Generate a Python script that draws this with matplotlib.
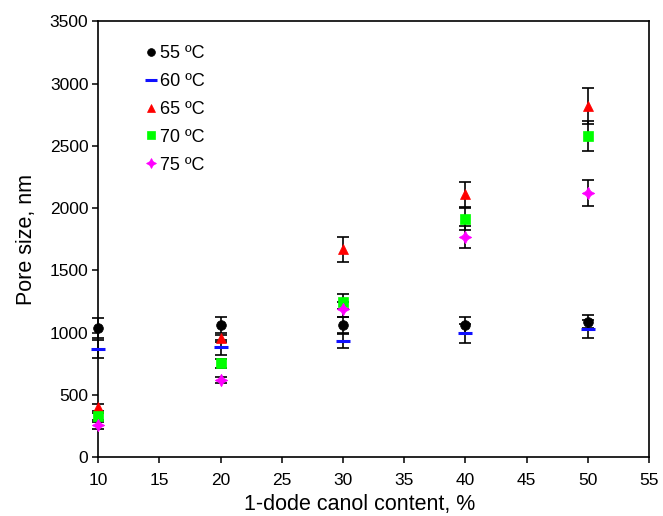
import matplotlib
matplotlib.use("Agg")
import matplotlib.pyplot as plt

plt.rcParams['font.family'] = ['Liberation Sans', 'DejaVu Sans']

# 1-dodecanol content, %
content = [10, 20, 30, 40, 50]

# Mean pore size (nm) and error for each temperature
temps = ["55 ºC", "60 ºC", "65 ºC", "70 ºC", "75 ºC"]
size_55 = [1035, 1062, 1059, 1062, 1088]
err_55 = [80, 66, 66, 66, 54]
size_60 = [869, 883, 936, 995, 1027]
err_60 = [74, 60, 62, 75, 72]
size_65 = [401, 955, 1669, 2113, 2819]
err_65 = [30, 30, 100, 100, 142]
size_70 = [328, 754, 1249, 1912, 2579]
err_70 = [30, 35, 62, 88, 121]
size_75 = [256, 620, 1188, 1766, 2120]
err_75 = [25, 25, 60, 88, 105]

series = [
    (size_55, err_55, dict(marker='o', color='black', ms=7)),
    (size_60, err_60, dict(marker='_', color='#1010ff', ms=10, mew=2.2)),
    (size_65, err_65, dict(marker='^', color='#ff0000', ms=7.5)),
    (size_70, err_70, dict(marker='s', color='#00ff00', ms=7)),
    (size_75, err_75, dict(marker=(4, 1, 0), color='#ff00ff', ms=9)),
]

fig = plt.figure(figsize=(6.63, 5.16), dpi=100)
ax = fig.add_axes([0.148, 0.1138, 0.831, 0.845])

handles = []
for (vals, errs, style), lab in zip(series, temps):
    eb = ax.errorbar(content, vals, yerr=errs, fmt='none', ecolor='black',
                     elinewidth=1.2, capsize=4, capthick=1.2, zorder=2)
    for art in eb.get_children():
        art.set_clip_on(False)
    h, = ax.plot(content, vals, linestyle='none', marker=style['marker'],
                 color=style['color'], markersize=style['ms'],
                 markeredgewidth=style.get('mew', 0.5),
                 markeredgecolor=style['color'], zorder=3, label=lab,
                 clip_on=False)
    handles.append(h)

ax.set_xlim(10, 55)
ax.set_ylim(0, 3500)
ax.set_xticks(range(10, 56, 5))
ax.set_yticks(range(0, 3501, 500))
ax.tick_params(axis='both', direction='out', length=4, width=1.1,
               labelsize=12.5, top=False, right=False)
ax.tick_params(axis='x', pad=7)
ax.tick_params(axis='y', pad=3)
for sp in ax.spines.values():
    sp.set_linewidth(1.2)

ax.set_xlabel("1-dode canol content, %", fontsize=15.5)
ax.xaxis.set_label_coords(0.4755, -0.085)
ax.set_ylabel("Pore size, nm", fontsize=15.5, labelpad=9)

leg = ax.legend(handles=handles, loc='upper left', bbox_to_anchor=(0.068, 0.97),
                frameon=False, fontsize=13, handlelength=0.5, handletextpad=0.25,
                labelspacing=0.6, borderaxespad=0.2, markerscale=0.8)

fig.savefig("out.png", dpi=100)
